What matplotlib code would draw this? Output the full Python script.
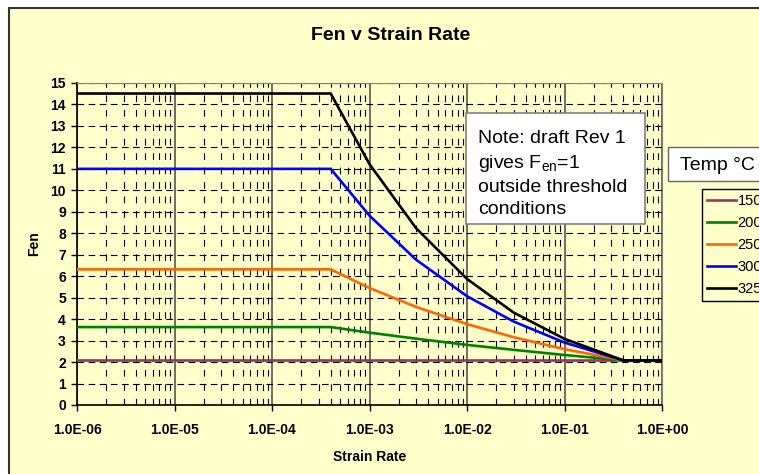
import numpy as np
import matplotlib
matplotlib.use("Agg")
import matplotlib.pyplot as plt
from matplotlib.patches import Rectangle
from matplotlib.ticker import LogLocator, FixedLocator, FuncFormatter, NullFormatter

plt.rcParams['font.family'] = ['Liberation Sans', 'DejaVu Sans']
plt.rcParams['mathtext.fontset'] = 'custom'
plt.rcParams['mathtext.rm'] = 'Liberation Sans'
plt.rcParams['mathtext.it'] = 'Liberation Sans:italic'

# strain rate points (1/s)
strain_rate = [1e-6, 1e-5, 1e-4, 4e-4, 1e-3, 3e-3, 1e-2, 3e-2, 1e-1, 4e-1, 1e0]

# Fen per temperature
temps = ['150', '200', '250', '300', '325']
fen_150 = [2.08, 2.08, 2.08, 2.08, 2.08, 2.08, 2.08, 2.08, 2.08, 2.08, 2.08]
fen_200 = [3.63, 3.63, 3.63, 3.63, 3.37, 3.09, 2.80, 2.57, 2.33, 2.08, 2.08]
fen_250 = [6.32, 6.32, 6.32, 6.32, 5.45, 4.57, 3.77, 3.16, 2.60, 2.08, 2.08]
fen_300 = [11.0, 11.0, 11.0, 11.0, 8.82, 6.77, 5.07, 3.89, 2.91, 2.08, 2.08]
fen_325 = [14.51, 14.51, 14.51, 14.51, 11.22, 8.24, 5.87, 4.31, 3.08, 2.08, 2.08]
all_fen = [fen_150, fen_200, fen_250, fen_300, fen_325]
colors = ['#993366', '#008000', '#FF6600', '#0000FF', '#000000']

W, H = 759, 474
fig = plt.figure(figsize=(W / 100, H / 100), dpi=100)
fig.patch.set_facecolor('white')

# chart area (runs past right/bottom edge)
fig.patches.append(Rectangle((9 / W, -0.02), 1.0, 1 - 8 / H + 0.02,
                             transform=fig.transFigure, facecolor='#FFFFCC',
                             edgecolor='#333333', linewidth=1.5, zorder=-5))

ax = fig.add_axes([77 / W, 1 - 405 / H, (662 - 77) / W, (405 - 83) / H])
ax.set_facecolor('none')

for fen, c, t in zip(all_fen, colors, temps):
    ax.plot(strain_rate, fen, color=c, linewidth=1.9, label=t, zorder=3)

ax.set_xscale('log')
ax.set_xlim(1e-6, 1e0)
ax.set_ylim(0, 15)
ax.yaxis.set_major_locator(FixedLocator(range(0, 16)))
ax.xaxis.set_major_locator(LogLocator(base=10, numticks=10))
ax.xaxis.set_minor_locator(LogLocator(base=10, subs=np.arange(2, 10), numticks=20))
ax.xaxis.set_major_formatter(FuncFormatter(lambda v, p: '%.1E' % v))
ax.xaxis.set_minor_formatter(NullFormatter())
ax.tick_params(axis='x', which='minor', length=0)
ax.tick_params(axis='both', which='major', length=4, width=1, labelsize=10, pad=4)
ax.tick_params(axis='x', pad=9)
for lab in ax.get_xticklabels() + ax.get_yticklabels():
    lab.set_fontweight('bold')

# grid
ax.grid(True, axis='x', which='major', color='#555555', linestyle='-', linewidth=1.2)
ax.grid(True, axis='x', which='minor', color='black', linestyle=(0, (6, 7)), linewidth=0.8)
ax.grid(True, axis='y', which='major', color='black', linestyle=(0, (6, 4)), linewidth=0.8)
ax.set_axisbelow(True)

for s in ['top', 'right']:
    ax.spines[s].set_color('#808080')
for s in ['left', 'bottom']:
    ax.spines[s].set_color('black')
    ax.spines[s].set_linewidth(1.2)

ax.set_xlabel('Strain Rate', fontsize=10, fontweight='bold', labelpad=9)
ax.set_ylabel('Fen', fontsize=10, fontweight='bold', labelpad=7)
fig.text(391 / W, 1 - 36 / H, 'Fen v Strain Rate', ha='center', va='center',
         fontsize=14, fontweight='bold')

# note box
fig.patches.append(Rectangle((466 / W, 1 - 224 / H), (645 - 466) / W, (224 - 113) / H,
                             transform=fig.transFigure, facecolor='white',
                             edgecolor='#808080', linewidth=1.2, zorder=5))
fig.text(478 / W, 1 - 130 / H,
         'Note: draft Rev 1\ngives F$_{\\mathrm{en}}$=1\noutside threshold\nconditions',
         ha='left', va='top', fontsize=14, linespacing=1.4, zorder=6)

# legend title box and legend
fig.patches.append(Rectangle((668 / W, 1 - 181 / H), 120 / W, (181 - 147) / H,
                             transform=fig.transFigure, facecolor='white',
                             edgecolor='#666666', linewidth=1, zorder=5))
fig.text(680 / W, 1 - 165 / H, 'Temp \u00b0C', ha='left', va='center', fontsize=14,
         zorder=6)
leg = fig.legend(loc='upper left', bbox_to_anchor=(702 / W, 1 - 189 / H),
                 fontsize=10.5, frameon=True, fancybox=False, edgecolor='black',
                 facecolor='#FFFFCC', framealpha=1, handlelength=2.0,
                 handletextpad=0.1, labelspacing=0.55, borderpad=0.35,
                 borderaxespad=0)
leg.get_frame().set_linewidth(1)

fig.savefig('out.png', dpi=100)
